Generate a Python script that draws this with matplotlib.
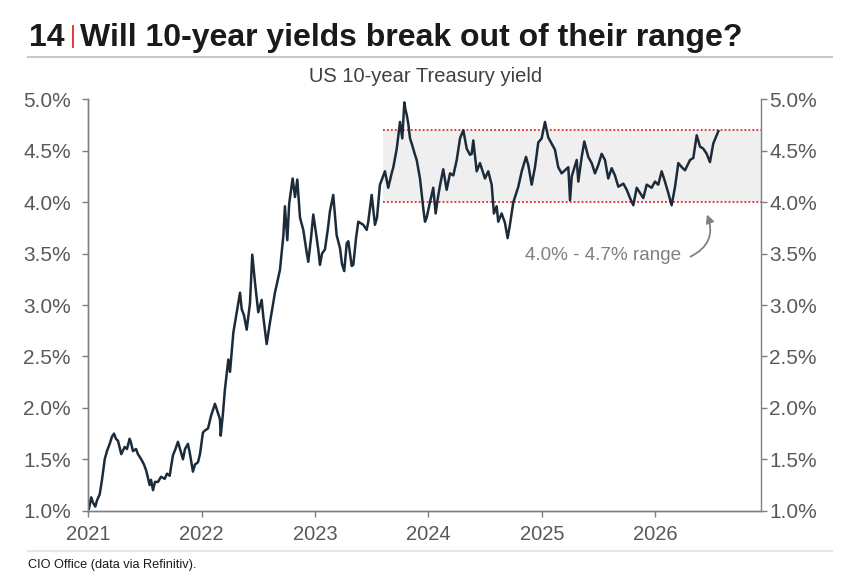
#!/usr/bin/env python3
"""US 10-year Treasury yield with the 4.0%-4.7% trading range highlighted."""
import matplotlib
matplotlib.use("Agg")
import matplotlib.pyplot as plt
from matplotlib.lines import Line2D

plt.rcParams["font.family"] = ["Liberation Sans", "DejaVu Sans"]

# ── Data ──────────────────────────────────────────────────────────────────────
# time as decimal years, yield in %
years = [
    2021.006, 2021.026, 2021.041, 2021.062, 2021.077, 2021.101, 2021.121, 2021.145,
    2021.165, 2021.189, 2021.209, 2021.227, 2021.244, 2021.262, 2021.291, 2021.321,
    2021.341, 2021.365, 2021.377, 2021.394, 2021.421, 2021.438, 2021.467, 2021.491,
    2021.511, 2021.526, 2021.541, 2021.553, 2021.571, 2021.588, 2021.615, 2021.641,
    2021.674, 2021.694, 2021.718, 2021.729, 2021.747, 2021.769, 2021.791, 2021.809,
    2021.835, 2021.853, 2021.879, 2021.897, 2021.923, 2021.941, 2021.967, 2021.985,
    2022.011, 2022.029, 2022.056, 2022.082, 2022.117, 2022.144, 2022.161, 2022.168,
    2022.188, 2022.205, 2022.235, 2022.250, 2022.279, 2022.309, 2022.338, 2022.353,
    2022.373, 2022.397, 2022.426, 2022.446, 2022.470, 2022.499, 2022.529, 2022.543,
    2022.573, 2022.602, 2022.646, 2022.690, 2022.720, 2022.734, 2022.755, 2022.772,
    2022.802, 2022.823, 2022.843, 2022.867, 2022.896, 2022.926, 2022.940, 2022.964,
    2022.984, 2023.008, 2023.028, 2023.043, 2023.061, 2023.087, 2023.114, 2023.131,
    2023.160, 2023.190, 2023.220, 2023.237, 2023.257, 2023.279, 2023.293, 2023.323,
    2023.337, 2023.361, 2023.381, 2023.425, 2023.455, 2023.469, 2023.499, 2023.528,
    2023.546, 2023.572, 2023.599, 2023.616, 2023.645, 2023.675, 2023.690, 2023.720,
    2023.749, 2023.769, 2023.787, 2023.797, 2023.808, 2023.822, 2023.837, 2023.852,
    2023.881, 2023.896, 2023.925, 2023.954, 2023.969, 2023.984, 2024.013, 2024.042,
    2024.063, 2024.084, 2024.101, 2024.130, 2024.160, 2024.190, 2024.219, 2024.249,
    2024.278, 2024.307, 2024.337, 2024.366, 2024.381, 2024.395, 2024.425, 2024.454,
    2024.498, 2024.527, 2024.557, 2024.577, 2024.601, 2024.615, 2024.645, 2024.674,
    2024.698, 2024.718, 2024.748, 2024.792, 2024.822, 2024.860, 2024.880, 2024.910,
    2024.939, 2024.968, 2024.998, 2025.027, 2025.056, 2025.086, 2025.115, 2025.144,
    2025.174, 2025.203, 2025.233, 2025.248, 2025.263, 2025.307, 2025.321, 2025.351,
    2025.374, 2025.409, 2025.439, 2025.468, 2025.497, 2025.527, 2025.556, 2025.585,
    2025.615, 2025.644, 2025.674, 2025.718, 2025.748, 2025.777, 2025.806, 2025.836,
    2025.865, 2025.894, 2025.924, 2025.968, 2025.997, 2026.026, 2026.056, 2026.085,
    2026.114, 2026.144, 2026.174, 2026.203, 2026.233, 2026.262, 2026.306, 2026.335,
    2026.365, 2026.394, 2026.423, 2026.453, 2026.482, 2026.511, 2026.541, 2026.556,
]
yields = [
    1.02, 1.13, 1.08, 1.04, 1.10, 1.16, 1.30, 1.50,
    1.58, 1.65, 1.72, 1.75, 1.70, 1.68, 1.55, 1.62,
    1.60, 1.70, 1.66, 1.58, 1.60, 1.55, 1.50, 1.45,
    1.39, 1.32, 1.25, 1.30, 1.20, 1.28, 1.28, 1.33,
    1.31, 1.36, 1.34, 1.42, 1.54, 1.60, 1.67, 1.60,
    1.50, 1.60, 1.65, 1.55, 1.38, 1.45, 1.47, 1.55,
    1.76, 1.78, 1.80, 1.92, 2.04, 1.95, 1.89, 1.73,
    1.95, 2.18, 2.47, 2.35, 2.73, 2.93, 3.12, 2.96,
    2.90, 2.76, 3.02, 3.49, 3.22, 2.93, 3.05, 2.89,
    2.62, 2.83, 3.12, 3.34, 3.67, 3.96, 3.63, 3.99,
    4.23, 4.05, 4.22, 3.85, 3.73, 3.51, 3.42, 3.65,
    3.88, 3.70, 3.54, 3.39, 3.50, 3.54, 3.75, 3.91,
    4.07, 3.68, 3.55, 3.40, 3.33, 3.60, 3.62, 3.38,
    3.39, 3.65, 3.81, 3.78, 3.73, 3.81, 4.07, 3.78,
    3.85, 4.17, 4.25, 4.30, 4.14, 4.28, 4.34, 4.52,
    4.78, 4.62, 4.97, 4.90, 4.85, 4.76, 4.62, 4.57,
    4.46, 4.41, 4.23, 3.94, 3.81, 3.85, 4.00, 4.14,
    3.89, 4.05, 4.16, 4.32, 4.12, 4.28, 4.26, 4.41,
    4.62, 4.70, 4.52, 4.46, 4.47, 4.60, 4.30, 4.38,
    4.23, 4.30, 4.17, 3.89, 3.96, 3.81, 3.89, 3.80,
    3.65, 3.78, 4.00, 4.15, 4.30, 4.44, 4.36, 4.17,
    4.34, 4.58, 4.62, 4.78, 4.63, 4.57, 4.51, 4.34,
    4.28, 4.31, 4.34, 4.02, 4.25, 4.41, 4.20, 4.44,
    4.59, 4.44, 4.38, 4.28, 4.36, 4.47, 4.41, 4.23,
    4.33, 4.26, 4.15, 4.18, 4.12, 4.04, 3.97, 4.14,
    4.09, 4.04, 4.17, 4.14, 4.20, 4.17, 4.30, 4.20,
    4.09, 3.97, 4.15, 4.38, 4.34, 4.31, 4.41, 4.43,
    4.65, 4.54, 4.52, 4.47, 4.39, 4.57, 4.65, 4.69,
]

range_low, range_high = 4.0, 4.7
range_start = 2023.599
x_min, x_max = 2021.0, 2026.932
y_ticks = [1.0, 1.5, 2.0, 2.5, 3.0, 3.5, 4.0, 4.5, 5.0]
x_ticks = [2021, 2022, 2023, 2024, 2025, 2026]

# ── Style ─────────────────────────────────────────────────────────────────────
LINE_C  = "#1c2b3a"
AXIS_C  = "#7f7f7f"
LABEL_C = "#595959"
RED     = "#e3262e"

fig = plt.figure(figsize=(8.52, 5.78), dpi=100, facecolor="white")
ax = fig.add_axes([0.1036, 0.1164, 0.7896, 0.7118])

# range band + dotted bounds
ax.axhspan(range_low, range_high, xmin=(range_start - x_min) / (x_max - x_min),
           xmax=1, color="#efefef", zorder=0, lw=0)
for lvl in (range_low, range_high):
    ax.plot([range_start, x_max], [lvl, lvl], color=RED, ls=(0, (1, 1.2)),
            lw=1.3, zorder=1)

ax.plot(years, yields, color=LINE_C, lw=1.8, zorder=3)

ax.set_xlim(x_min, x_max)
ax.set_ylim(1.0, 5.0)
ax.set_yticks(y_ticks)
ax.set_yticklabels([f"{v:.1f}%" for v in y_ticks])
ax.set_xticks(x_ticks)
ax.set_xticklabels([str(y) for y in x_ticks])

# right-hand copy of the y axis (own label padding)
ax2 = ax.twinx()
ax2.set_ylim(ax.get_ylim())
ax2.set_yticks(y_ticks)
ax2.set_yticklabels([f"{v:.1f}%" for v in y_ticks])

for a in (ax, ax2):
    for side in ("left", "right", "bottom"):
        a.spines[side].set_color(AXIS_C)
        a.spines[side].set_linewidth(1.0)
    a.spines["top"].set_visible(False)
ax.spines["right"].set_visible(False)

ax.tick_params(axis="y", colors=AXIS_C, labelcolor=LABEL_C, labelsize=15,
               length=4.5, width=1.0, direction="out", pad=8)
ax.tick_params(axis="x", colors=AXIS_C, labelcolor=LABEL_C, labelsize=14.5,
               length=4.5, width=1.0, direction="out", pad=6)
ax2.tick_params(axis="y", colors=AXIS_C, labelcolor=LABEL_C, labelsize=15,
                length=4.5, width=1.0, direction="out", pad=1.5)

# annotation
ax.text(2025.543, 3.48, "4.0% - 4.7% range", color="#808080", fontsize=13.6,
        ha="center", va="center")
ax.annotate("", xy=(2026.455, 3.88), xytext=(2026.31, 3.47),
            arrowprops=dict(arrowstyle="-|>", color="#808080", lw=1.3,
                            connectionstyle="arc3,rad=0.45",
                            shrinkA=0, shrinkB=0, mutation_scale=12))

# ── Header / footer ───────────────────────────────────────────────────────────
fig.text(0.034, 0.921, "14", fontsize=23, fontweight="bold", color="#1a1a1a",
         ha="left", va="baseline")
fig.add_artist(Line2D([0.0851, 0.0851], [0.919, 0.955], color=RED, lw=1.3))
fig.text(0.094, 0.921, "Will 10-year yields break out of their range?",
         fontsize=23, fontweight="bold", color="#1a1a1a", ha="left", va="baseline")
fig.add_artist(Line2D([0.033, 0.977], [0.902, 0.902], color="#c8c8c8", lw=1.5))

fig.text(0.499, 0.867, "US 10-year Treasury yield", fontsize=14.5, color="#404040",
         ha="center", va="center")

fig.add_artist(Line2D([0.033, 0.977], [0.047, 0.047], color="#e6e6e6", lw=1.5))
fig.text(0.033, 0.022, "CIO Office (data via Refinitiv).", fontsize=9.2,
         color="#1a1a1a", ha="left", va="center")

fig.savefig("out.png", dpi=100, facecolor=fig.get_facecolor())
